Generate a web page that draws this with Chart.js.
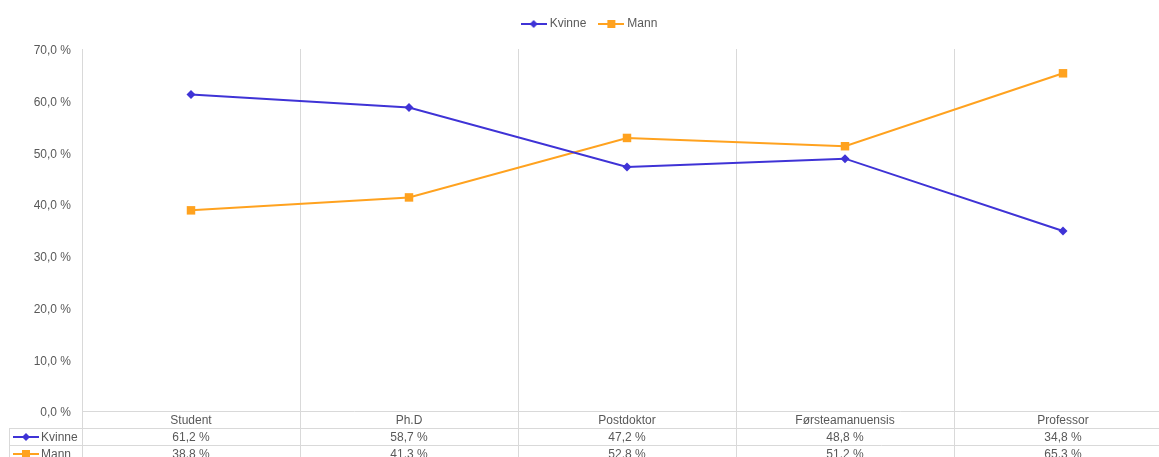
<!DOCTYPE html>
<html>
<head>
<meta charset="utf-8">
<script src="https://cdn.jsdelivr.net/npm/chart.js@4.4.1/dist/chart.umd.min.js"></script>
<style>
html,body{margin:0;padding:0;background:#fff;overflow:hidden;}
canvas{display:block;}
</style>
</head>
<body>
<canvas id="c" width="1178" height="470"></canvas>
<script>
const categories = ['Student', 'Ph.D', 'Postdoktor', 'Førsteamanuensis', 'Professor'];
const kvinne = [61.2, 58.7, 47.2, 48.8, 34.8];
const mann = [38.8, 41.3, 52.8, 51.2, 65.3];
const seriesNames = ['Kvinne', 'Mann'];
const yTickValues = [0, 10, 20, 30, 40, 50, 60, 70];

const KV_COLOR = '#3F33D6';
const MA_COLOR = '#FFA21F';
const TEXT = '#595959';
const GRID = '#D9D9D9';
const FONT = '"Liberation Sans", Arial, sans-serif';

function fmt(v) { return v.toFixed(1).replace('.', ',') + ' %'; }

function drawMarker(ctx, style, x, y, color) {
  ctx.fillStyle = color;
  ctx.beginPath();
  if (style === 'rectRot') {
    ctx.moveTo(x, y - 4); ctx.lineTo(x + 4, y); ctx.lineTo(x, y + 4); ctx.lineTo(x - 4, y);
    ctx.closePath();
  } else {
    ctx.rect(x - 4, y - 4, 8, 8);
  }
  ctx.fill();
}

function legendIcon(color, style) {
  const c = document.createElement('canvas');
  c.width = 26; c.height = 10;
  const g = c.getContext('2d');
  g.strokeStyle = color; g.lineWidth = 2;
  g.beginPath(); g.moveTo(0, 5); g.lineTo(26, 5); g.stroke();
  drawMarker(g, style, 13, 5, color);
  return c;
}

const legendSpacing = {
  id: 'legendSpacing',
  afterInit(chart) {
    const lg = chart.legend;
    if (!lg) return;
    const orig = lg.fit;
    lg.fit = function () { orig.call(this); this.height += 9; };
  }
};

const tablePlugin = {
  id: 'dataTable',
  afterDraw(chart) {
    const ctx = chart.ctx;
    const xs = chart.scales.x;
    const area = chart.chartArea;
    const n = categories.length;
    const step = xs.getPixelForValue(1) - xs.getPixelForValue(0);
    const bounds = [];
    for (let i = 0; i <= n; i++) bounds.push(Math.round(xs.getPixelForValue(0) - step / 2 + i * step) + 0.5);
    const rowH = 17;
    const y0 = Math.round(area.bottom);
    const rows = [y0 + rowH, y0 + 2 * rowH, y0 + 3 * rowH];
    const leftX = 9.5;
    ctx.save();
    ctx.strokeStyle = GRID; ctx.lineWidth = 1;
    ctx.beginPath();
    bounds.forEach(b => { ctx.moveTo(b, y0); ctx.lineTo(b, rows[2]); });
    ctx.moveTo(leftX, rows[0]); ctx.lineTo(leftX, rows[2]);
    rows.forEach(r => { ctx.moveTo(leftX, r + 0.5); ctx.lineTo(bounds[n], r + 0.5); });
    ctx.stroke();

    ctx.font = '12px ' + FONT;
    ctx.fillStyle = TEXT;
    ctx.textAlign = 'center';
    ctx.textBaseline = 'middle';
    const data = [kvinne, mann];
    data.forEach((arr, r) => {
      const cy = rows[r] + rowH / 2 + 1;
      arr.forEach((v, i) => {
        ctx.fillText(fmt(v), xs.getPixelForValue(i), cy);
      });
    });
    const colors = [KV_COLOR, MA_COLOR];
    const styles = ['rectRot', 'rect'];
    seriesNames.forEach((name, r) => {
      const cy = rows[r] + rowH / 2 + 0.5;
      ctx.strokeStyle = colors[r]; ctx.lineWidth = 2;
      ctx.beginPath(); ctx.moveTo(13, cy); ctx.lineTo(39, cy); ctx.stroke();
      drawMarker(ctx, styles[r], 26, cy, colors[r]);
      ctx.fillStyle = TEXT;
      ctx.textAlign = 'left';
      ctx.fillText(name, 41, cy + 0.5);
    });
    ctx.restore();
  }
};

new Chart(document.getElementById('c'), {
  type: 'line',
  data: {
    labels: categories,
    datasets: [
      { label: seriesNames[0], data: kvinne, borderColor: KV_COLOR, backgroundColor: KV_COLOR,
        borderWidth: 2, pointStyle: 'rectRot', pointRadius: 4.5, pointBorderWidth: 0, tension: 0 },
      { label: seriesNames[1], data: mann, borderColor: MA_COLOR, backgroundColor: MA_COLOR,
        borderWidth: 2, pointStyle: 'rect', pointRadius: 6, pointBorderWidth: 0, tension: 0 }
    ]
  },
  options: {
    responsive: false,
    animation: false,
    devicePixelRatio: 1,
    layout: { padding: { top: 3, left: 9, right: 6, bottom: 8 } },
    plugins: {
      tooltip: { enabled: false },
      legend: {
        position: 'top',
        labels: {
          usePointStyle: true,
          pointStyleWidth: 20,
          padding: 15,
          color: TEXT,
          font: { family: FONT, size: 12 },
          generateLabels(chart) {
            const st = ['rectRot', 'rect'];
            return chart.data.datasets.map((ds, i) => ({
              text: ds.label,
              fillStyle: ds.borderColor,
              strokeStyle: ds.borderColor,
              lineWidth: 0,
              pointStyle: legendIcon(ds.borderColor, st[i]),
              fontColor: TEXT,
              datasetIndex: i,
              hidden: false
            }));
          }
        }
      }
    },
    scales: {
      x: {
        offset: true,
        grid: { display: true, offset: true, color: GRID, drawTicks: false },
        border: { display: true, color: GRID },
        ticks: { padding: 2, color: TEXT, font: { family: FONT, size: 12 }, maxRotation: 0, autoSkip: false },
        afterFit(s) { s.height = 51; }
      },
      y: {
        min: 0, max: 70,
        afterBuildTicks(s) { s.ticks = yTickValues.map(v => ({ value: v })); },
        ticks: { color: TEXT, font: { family: FONT, size: 12 }, padding: 11, labelOffset: 2, callback: v => fmt(v) },
        grid: { display: false, drawTicks: false },
        border: { display: false },
        afterFit(s) { s.width = 73; }
      }
    }
  },
  plugins: [legendSpacing, tablePlugin]
});
</script>
</body>
</html>
